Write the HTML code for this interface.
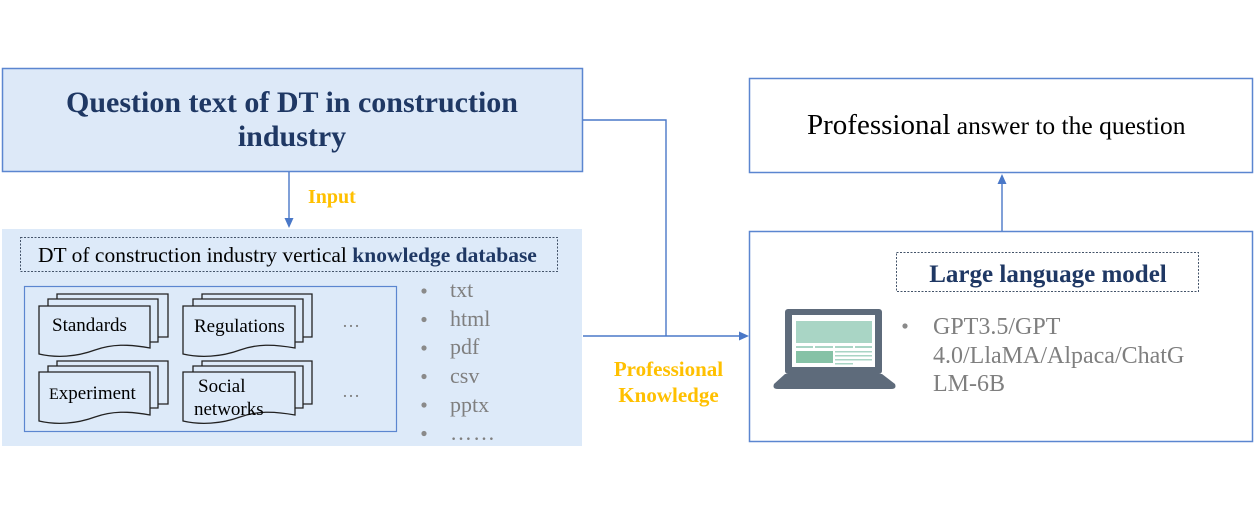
<!DOCTYPE html>
<html>
<head>
<meta charset="utf-8">
<style>
  html,body{margin:0;padding:0;background:#ffffff;}
  body{width:1254px;height:512px;overflow:hidden;}
  svg{display:block;}
  text{font-family:"Liberation Serif","Times New Roman",serif;}
</style>
</head>
<body>
<svg width="1254" height="512" viewBox="0 0 1254 512" xmlns="http://www.w3.org/2000/svg">
  <!-- Top-left question box -->
  <rect x="2.5" y="68.5" width="580" height="103" fill="#dde9f8" stroke="#5b86d0" stroke-width="1.5"/>
  <text x="292" y="112" font-size="30" font-weight="bold" fill="#1f3864" text-anchor="middle">Question text of DT in construction</text>
  <text x="292" y="146" font-size="30" font-weight="bold" fill="#1f3864" text-anchor="middle">industry</text>

  <!-- Input arrow -->
  <line x1="289" y1="172" x2="289" y2="219" stroke="#4a78c8" stroke-width="1.4"/>
  <polygon points="284.5,218 293.5,218 289,228" fill="#4a78c8"/>
  <text x="308" y="203" font-size="20" font-weight="bold" fill="#ffc000">Input</text>

  <!-- Knowledge database area -->
  <rect x="2" y="229" width="580" height="217" fill="#ddeaf9"/>
  <rect x="20.5" y="237.5" width="537" height="34" fill="none" stroke="#44546a" stroke-width="1" stroke-dasharray="2,1.5"/>
  <text x="38" y="262" font-size="21.5" fill="#000">DT of construction industry vertical <tspan font-weight="bold" fill="#1f3864">knowledge database</tspan></text>

  <!-- inner docs box -->
  <rect x="24.5" y="286.5" width="372" height="145" fill="none" stroke="#5b86d0" stroke-width="1.2"/>

  <g fill="none" stroke="#222" stroke-width="1.3">
    <!-- Standards -->
    <path d="M57,299 V294 H168 V337 H158"/>
    <path d="M48,306 V299 H158 V342 H150"/>
    <path d="M39,306 H150 V348 C128,344 112,344 95,350 C76,357 56,358 39,354 Z" fill="#ddeaf9"/>
    <!-- Regulations -->
    <path d="M202,299 V294 H312 V337 H303"/>
    <path d="M193,306 V299 H303 V342 H295"/>
    <path d="M183,306 H295 V348 C273,344 257,344 240,350 C221,357 200,358 183,354 Z" fill="#ddeaf9"/>
    <!-- Experiment -->
    <path d="M57,366 V361 H168 V404 H158"/>
    <path d="M48,372 V366 H158 V408 H150"/>
    <path d="M39,372 H150 V415 C128,411 112,411 95,417 C76,424 56,425 39,421 Z" fill="#ddeaf9"/>
    <!-- Social networks -->
    <path d="M202,366 V361 H312 V404 H303"/>
    <path d="M193,372 V366 H303 V408 H295"/>
    <path d="M183,372 H295 V415 C273,411 257,411 240,417 C221,424 200,425 183,421 Z" fill="#ddeaf9"/>
  </g>
  <text x="52" y="331" font-size="19" fill="#000">Standards</text>
  <text x="194" y="332" font-size="19" fill="#000">Regulations</text>
  <text x="49" y="399" font-size="19" fill="#000"><tspan font-size="16">E</tspan>xperiment</text>
  <text x="198" y="392" font-size="19" fill="#000">Social</text>
  <text x="194" y="415" font-size="19" fill="#000">networks</text>
  <text x="342" y="327" font-size="18" fill="#7f7f7f">…</text>
  <text x="342" y="397" font-size="18" fill="#7f7f7f">…</text>

  <!-- file type list -->
  <g fill="#8a8a8a">
    <circle cx="424" cy="291" r="2.6"/>
    <circle cx="424" cy="319.5" r="2.6"/>
    <circle cx="424" cy="348" r="2.6"/>
    <circle cx="424" cy="376.5" r="2.6"/>
    <circle cx="424" cy="405" r="2.6"/>
    <circle cx="424" cy="433.5" r="2.6"/>
  </g>
  <g font-size="22" fill="#7f7f7f">
    <text x="450" y="297">txt</text>
    <text x="450" y="326">html</text>
    <text x="450" y="354">pdf</text>
    <text x="450" y="383">csv</text>
    <text x="450" y="412">pptx</text>
    <text x="450" y="440" letter-spacing="1">……</text>
  </g>

  <!-- connectors -->
  <polyline points="583,120 666,120 666,336" fill="none" stroke="#4a78c8" stroke-width="1.4"/>
  <line x1="583" y1="336" x2="741" y2="336" stroke="#4a78c8" stroke-width="1.4"/>
  <polygon points="739,331.5 739,340.5 749,336" fill="#4a78c8"/>
  <text x="668.5" y="376" font-size="21" font-weight="bold" fill="#ffc000" text-anchor="middle">Professional</text>
  <text x="668.5" y="402" font-size="21" font-weight="bold" fill="#ffc000" text-anchor="middle">Knowledge</text>

  <!-- Top-right answer box -->
  <rect x="749.5" y="78.5" width="503" height="94" fill="#ffffff" stroke="#5b86d0" stroke-width="1.5"/>
  <text x="807" y="134" fill="#000"><tspan font-size="29">Professional</tspan><tspan font-size="25.5"> answer to the question</tspan></text>

  <!-- up arrow -->
  <line x1="1002" y1="231" x2="1002" y2="182" stroke="#4a78c8" stroke-width="1.4"/>
  <polygon points="997.5,184 1006.5,184 1002,174" fill="#4a78c8"/>

  <!-- Bottom-right LLM box -->
  <rect x="749.5" y="231.5" width="503" height="210" fill="#ffffff" stroke="#5b86d0" stroke-width="1.5"/>
  <rect x="896.5" y="252.5" width="302" height="39" fill="none" stroke="#44546a" stroke-width="1" stroke-dasharray="2,1.5"/>
  <text x="1048" y="282" font-size="25" font-weight="bold" fill="#1f3864" text-anchor="middle">Large language model</text>

  <!-- laptop icon -->
  <rect x="785" y="309" width="97" height="65" rx="3" fill="#5e6b7b"/>
  <path d="M785,374 H882 L895,384 Q897,389 891,389 H778 Q772,389 774,384 Z" fill="#5e6b7b"/>
  <rect x="792" y="315" width="83" height="52" fill="#ffffff"/>
  <rect x="796" y="321" width="76" height="22" fill="#a9d5c5"/>
  <g fill="#a9d5c5">
    <rect x="796" y="346" width="17" height="2"/>
    <rect x="815" y="346" width="18" height="2"/>
    <rect x="835" y="346" width="18" height="2"/>
    <rect x="855" y="346" width="17" height="2"/>
    <rect x="835" y="351" width="37" height="1.5"/>
    <rect x="835" y="355" width="37" height="1.5"/>
    <rect x="835" y="359" width="37" height="1.5"/>
    <rect x="835" y="363" width="18" height="1.5"/>
  </g>
  <rect x="796" y="351" width="37" height="12" fill="#86c2a6"/>

  <!-- LLM list -->
  <circle cx="905" cy="326" r="2.6" fill="#8a8a8a"/>
  <g font-size="24" fill="#7f7f7f">
    <text x="933" y="334">GPT3.5/GPT</text>
    <text x="933" y="363">4.0/LlaMA/Alpaca/ChatG</text>
    <text x="933" y="391">LM-6B</text>
  </g>
</svg>
</body>
</html>
